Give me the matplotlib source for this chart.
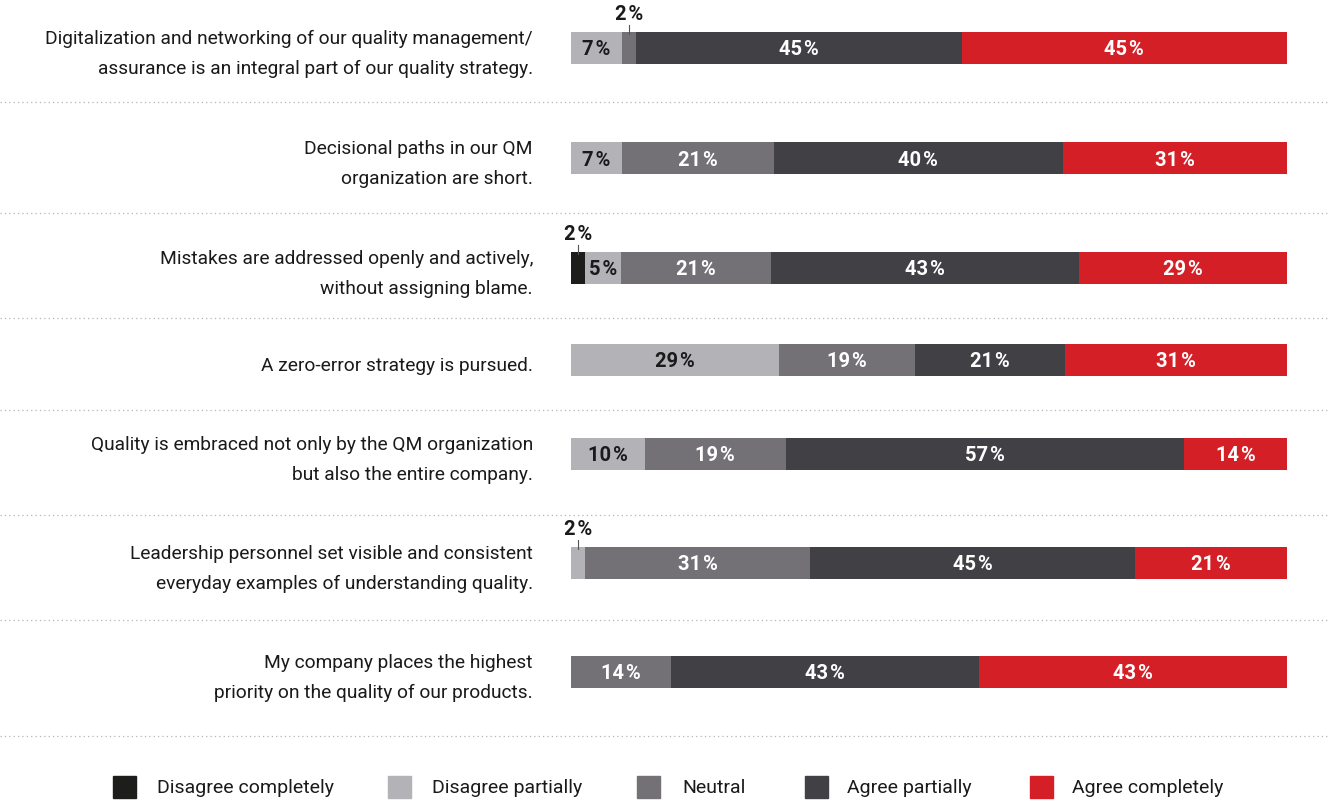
import matplotlib
matplotlib.use("Agg")
import matplotlib.pyplot as plt
from matplotlib.patches import Rectangle
from matplotlib.transforms import blended_transform_factory

# ---- data ----
statements = [
    "Digitalization and networking of our quality management/\nassurance is an integral part of our quality strategy.",
    "Decisional paths in our QM\norganization are short.",
    "Mistakes are addressed openly and actively,\nwithout assigning blame.",
    "A zero-error strategy is pursued.",
    "Quality is embraced not only by the QM organization\nbut also the entire company.",
    "Leadership personnel set visible and consistent\neveryday examples of understanding quality.",
    "My company places the highest\npriority on the quality of our products.",
]
categories = ["Disagree completely", "Disagree partially", "Neutral", "Agree partially", "Agree completely"]
# bar shares (%)
disagree_completely = [0, 0, 2, 0, 0, 0, 0]
disagree_partially = [7, 7, 5, 29, 10.3, 2, 0]
neutral = [2, 21, 21, 19, 19.7, 31, 14]
agree_partially = [45, 40, 43, 21, 55.6, 45, 43]
agree_completely = [45, 31, 29, 31, 14.4, 21, 43]
# printed labels
disagree_completely_lbl = ["", "", "2", "", "", "", ""]
disagree_partially_lbl = ["7", "7", "5", "29", "10", "2", ""]
neutral_lbl = ["2", "21", "21", "19", "19", "31", "14"]
agree_partially_lbl = ["45", "40", "43", "21", "57", "45", "43"]
agree_completely_lbl = ["45", "31", "29", "31", "14", "21", "43"]

# ---- style / layout ----
colors = ["#1d1d1b", "#b3b2b7", "#737176", "#414045", "#d51f27"]
text_colors = ["white", "#1a1a1a", "white", "white", "white"]
row_centers = [48.5, 159, 269, 361, 455, 564, 673]
separators = [103, 214, 319, 411, 516, 621, 737]
bar_h = 32
legend_sq_x = [113, 388, 637, 805, 1030]
legend_tx_x = [157, 432, 682, 847, 1072]
legend_y = 788

W, H = 1330, 803
fig = plt.figure(figsize=(W / 100, H / 100), dpi=100)
ax = fig.add_axes([571 / W, 0, 716 / W, 1])
ax.set_xlim(0, 100)
ax.set_ylim(H, 0)
ax.axis("off")

label_font = ["Roboto", "DejaVu Sans"]
pct_font = ["Roboto", "DejaVu Sans"]

series = [disagree_completely, disagree_partially, neutral, agree_partially, agree_completely]
labels = [disagree_completely_lbl, disagree_partially_lbl, neutral_lbl, agree_partially_lbl, agree_completely_lbl]
trans_fig_data = blended_transform_factory(fig.transFigure, ax.transData)

for i, stmt in enumerate(statements):
    yc = row_centers[i]
    vals = [s[i] for s in series]
    total = sum(vals)
    left = 0.0
    for k, v in enumerate(vals):
        if v == 0:
            continue
        w = v / total * 100
        ax.barh(yc, w, left=left, height=bar_h, color=colors[k], edgecolor="none")
        cx = left + w / 2
        txt = labels[k][i] + "\u200a%"
        if v <= 2:
            top = yc - bar_h / 2
            ax.plot([cx, cx], [top - 7, top + 2], color="#555555", lw=0.8)
            ax.text(cx, top - 18, txt, ha="center", va="center",
                    fontsize=14.5, fontweight="bold", color="#1a1a1a", family=pct_font)
        else:
            ax.text(cx, yc + 1, txt, ha="center", va="center",
                    fontsize=14.5, fontweight="bold", color=text_colors[k], family=pct_font)
        left += w
    ax.text(533 / W, yc + 5, stmt, transform=trans_fig_data, ha="right", va="center",
            fontsize=13.8, color="#1a1a1a", family=label_font, linespacing=1.85)

for ys in separators:
    ax.plot([0, 1], [ys, ys], transform=trans_fig_data, clip_on=False,
            linestyle=(0, (1, 2.5)), color="#b5b5b5", lw=0.9)

# legend
for k, cat in enumerate(categories):
    fig.patches.append(Rectangle((legend_sq_x[k] / W, 1 - 799 / H), 23 / W, 22 / H,
                                 transform=fig.transFigure, color=colors[k], figure=fig))
    fig.text(legend_tx_x[k] / W, 1 - legend_y / H, cat, ha="left", va="center",
             fontsize=14, color="#1a1a1a", family=label_font)

fig.savefig("out.png", dpi=100, facecolor="white")
